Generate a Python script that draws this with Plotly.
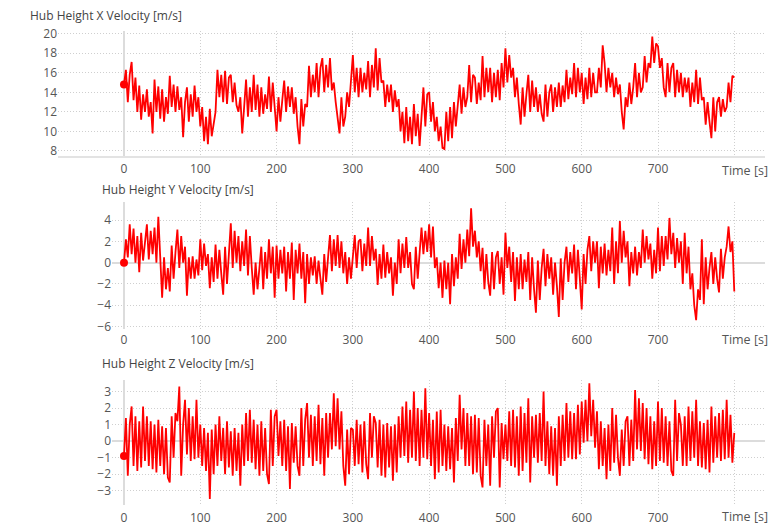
import plotly.graph_objects as go

W, H = 783, 531

# ---- data, 4 samples per 10 s window, 2.5 s apart ----
x_vel = [
    14.8, 16.3, 13.0, 15.8,  17.1, 13.2, 15.5, 12.0,  14.7, 11.2, 13.8, 12.0,  14.3, 11.5, 13.0, 9.8,
    15.3, 12.0, 14.6, 11.3,  14.3, 11.0, 13.5, 11.8,  15.7, 12.5, 14.8, 12.0,  14.6, 12.2, 13.5, 9.4,
    13.0, 14.5, 11.0, 13.8,  11.5, 14.7, 12.0, 13.5,  10.5, 12.5, 9.0, 11.5,   8.7, 12.3, 9.5, 11.0,
    12.0, 16.3, 13.5, 15.8,  13.0, 16.2, 12.8, 15.5,  15.8, 13.0, 15.0, 12.7,  12.0, 13.5, 9.8, 12.5,
    15.3, 11.5, 14.5, 12.0,  15.8, 12.2, 14.8, 11.5,  14.5, 11.8, 13.8, 12.3,  15.6, 12.0, 15.0, 12.5,
    10.0, 13.5, 11.0, 13.2,  15.2, 12.0, 14.6, 12.5,  14.5, 11.8, 13.5, 10.5,  8.7, 13.3, 10.5, 12.8,
    12.5, 16.7, 13.5, 15.8,  14.0, 17.0, 13.5, 16.5,  17.5, 14.0, 16.8, 14.5,  17.5, 14.2, 15.0, 13.0,
    11.5, 9.8, 13.5, 10.5,   11.5, 14.0, 12.5, 15.5,  17.8, 14.0, 16.5, 13.5,  16.5, 14.0, 16.0, 14.3,
    17.2, 13.5, 16.8, 14.5,  18.5, 14.2, 17.5, 15.0,  15.2, 12.5, 14.8, 13.0,  14.8, 12.0, 14.2, 12.5,
    13.3, 10.0, 12.0, 8.8,   12.5, 9.0, 11.5, 8.7,    12.8, 9.5, 11.8, 8.5,    11.0, 14.5, 10.5, 13.8,
    14.0, 11.0, 13.0, 10.0,  11.5, 9.0, 10.5, 8.3,    8.2, 12.0, 9.0, 12.5,    9.3, 13.0, 10.5, 12.5,
    14.8, 11.8, 14.5, 12.5,  13.5, 16.8, 13.0, 15.8,  15.5, 12.8, 15.0, 13.2,  17.7, 13.5, 16.5, 14.0,
    16.5, 13.0, 16.0, 13.5,  16.3, 13.2, 17.0, 14.5,  18.5, 15.0, 17.8, 15.5,  16.5, 13.5, 15.5, 12.8,
    10.7, 14.5, 11.5, 13.8,  15.8, 12.0, 15.2, 12.5,  14.5, 12.0, 13.8, 11.8,  11.0, 14.8, 11.5, 14.0,
    14.8, 12.0, 14.5, 12.5,  15.0, 12.5, 14.7, 13.0,  16.3, 13.3, 15.5, 13.8,  17.0, 13.5, 16.5, 14.0,
    16.0, 12.8, 15.5, 13.3,  16.5, 13.5, 16.0, 14.0,  14.0, 16.5, 14.5, 18.8,  17.0, 14.0, 16.5, 14.5,
    16.0, 13.5, 15.5, 13.8,  14.8, 12.0, 10.2, 13.5,  12.5, 15.0, 12.8, 14.5,  17.0, 13.5, 16.0, 14.0,
    14.5, 17.7, 15.0, 17.0,  16.5, 19.7, 17.0, 19.0,  18.7, 16.5, 17.5, 14.5,  13.5, 17.0, 14.0, 16.5,
    17.0, 13.5, 16.3, 14.0,  16.0, 13.5, 15.5, 14.0,  15.5, 12.5, 15.0, 13.0,  16.3, 12.8, 15.5, 13.2,
    13.5, 10.7, 13.0, 11.0,  9.3, 13.5, 10.0, 13.0,   13.5, 11.5, 13.3, 12.0,  12.5, 15.0, 13.0, 15.7,
    15.5,
]
y_vel = [
    0.0, 2.2, 0.5, 3.6,   0.8, 3.2, 0.0, 2.5,   -0.9, 2.8, 0.2, 2.0,  3.6, 0.3, 3.0, 0.8,
    3.3, 0.0, 4.3, 0.5,   -3.3, 0.5, -2.5, -0.5, -2.7, 1.6, -1.5, 1.0, 3.1, -0.5, 2.5, 0.0,
    1.5, -3.1, 0.5, -1.5, 0.6, -1.5, 0.3, -1.2, 2.2, -0.7, 1.8, -0.3, 0.8, -2.4, 0.5, -1.8,
    1.7, -1.5, 1.2, -1.0, -3.0, 1.5, -2.0, 0.8, 3.7, -0.5, 3.0, 0.0,  2.5, -0.8, 2.0, -0.3,
    3.1, -1.2, 2.5, -0.5, -3.0, 0.0, -2.5, -0.5, 1.5, -2.5, 1.0, -1.5, 2.2, -1.0, 1.5, -3.3,
    1.6, -1.5, 1.2, -1.0, 1.5, -2.7, 1.0, -1.5, 1.9, -3.5, 1.2, -1.0, 1.8, -1.5, 1.0, -3.8,
    0.8, -2.0, 0.5, -1.2, 0.6, -2.0, 0.2, -1.5, -3.0, 0.8, -1.8, 0.5, 2.6, -0.8, 2.2, -0.3,
    2.6, -0.5, 2.0, -1.0, 1.0, -2.0, 0.5, -1.5, 0.5, 2.6, -0.5, 2.0,  2.2, -0.8, 1.8, -0.3,
    3.3, -0.3, 2.5, 0.2,  1.3, -2.1, 0.8, -1.5, 1.7, -1.4, 1.0, -1.0, 0.5, -3.1, 0.0, -2.0,
    2.2, -1.0, 1.8, -0.5, 2.4, -0.5, 1.0, -2.0, -2.5, 1.5, -1.5, 1.2, 3.3, 0.8, 3.0, 1.0,
    3.6, 0.5, 3.4, -0.5,  0.5, -2.4, 0.0, -3.3, 0.2, -2.5, 0.0, -3.9, 0.8, -2.2, 0.5, -1.5,
    2.7, -0.6, 2.2, 0.0,  3.1, 0.6, 5.1, 1.5,   3.0, 0.5, 2.0, -0.8,  1.4, -2.5, 0.8, -1.8,
    -3.1, 1.0, -2.5, 0.5, 1.1, -2.0, 0.5, -3.0, 2.8, -0.5, 1.5, -1.8, 1.0, -3.6, 0.5, -2.5,
    0.8, -2.5, 0.3, -1.8, 1.0, -3.5, 0.5, -2.5, -4.7, 0.2, -3.5, -0.5, 1.3, -2.2, 0.8, -1.5,
    0.5, -3.0, 0.0, -2.2, -5.1, 0.4, -3.5, 0.0, 1.5, -1.8, 1.0, -1.0, 1.7, -2.5, 1.2, -1.5,
    -4.4, 0.8, -2.0, 1.2, 2.5, -0.8, 2.0, 0.0,  2.0, -2.4, 1.5, -1.0, 1.8, -1.2, 1.2, -0.8,
    3.3, -2.0, 2.0, -1.0, 3.9, 0.0, 3.0, 0.5,   2.0, -2.2, 1.0, -1.0, 1.5, -1.2, 1.0, -0.5,
    3.1, 0.0, 2.5, 0.3,   1.8, -1.5, 1.2, -1.0, 3.3, -0.8, 2.5, -0.3, 2.5, 0.3, 4.2, 0.8,
    2.8, -0.5, 2.3, 0.0,  2.0, -2.0, 2.8, -1.0, 1.5, -2.5, -1.0, -4.0, -5.4, -2.5, -3.5, 2.2,
    -3.9, 0.5, -2.5, -0.5, 1.0, -2.0, 0.5, -1.5, -2.8, 1.3, -1.5, 0.5, 1.5, 3.4, 1.0, 2.0,
    -2.7,
]
z_vel = [
    -0.9, 1.4, -2.1, 1.0, 2.1, -1.5, 1.5, -1.8, 1.2, -1.6, 2.1, -1.2, 1.5, -1.5, 1.2, -1.7,
    1.0, -1.9, 1.3, -1.5, 0.9, -2.0, 0.8, -2.2, -2.5, 1.5, -1.0, 1.7, 1.2, 3.3, -2.1, 1.0,
    2.5, -0.8, 2.0, -1.2, 1.5, -1.1, 2.5, -1.0, 1.0, -1.5, 0.8, -1.8, 0.5, -3.5, 0.7, -2.0,
    1.0, -1.5, 1.5, -1.2, 0.8, -2.0, 1.2, -1.6, 0.6, -2.1, 0.8, -1.8, 0.5, -2.7, 1.0, -1.5,
    1.7, -1.2, 1.9, -1.3, 1.3, -1.7, 1.0, -2.1, 1.2, -1.8, 0.8, -2.0, -2.6, 1.9, -1.5, 1.5,
    1.9, -0.9, 1.2, -1.5, 1.3, -1.8, 0.9, -2.9, 1.1, -1.3, 0.9, -1.5, -2.1, 2.0, -1.5, 1.3,
    2.3, -1.0, 1.6, -1.5, 1.5, -1.2, 2.2, -1.4, 1.4, -2.1, 1.7, -1.0, 1.7, -0.5, 2.9, -0.3,
    2.6, -0.5, 1.8, -1.5, -2.7, 0.7, -2.0, 0.8, 0.7, -1.5, 1.3, -1.4, 1.0, -1.9, 1.2, -1.4,
    -2.3, 1.7, -1.0, 1.5, 1.1, -1.6, 1.3, -2.1, 1.0, -2.2, 1.1, -1.6, 0.9, -2.4, 1.0, -1.9,
    1.5, -1.0, 2.1, -0.9, 2.4, -1.3, 1.9, -1.0, 3.0, -1.2, 2.0, -1.5, 1.9, -1.0, 3.2, -1.1,
    1.7, -1.5, 1.3, -2.3, 1.8, -1.9, 1.9, -1.5, 1.0, -1.8, 0.9, -1.7, 0.8, -2.5, 1.4, -1.2,
    2.8, -0.5, 2.0, -1.5, 1.7, -1.5, 1.5, -2.0, 1.6, -1.9, 1.4, -2.1, -2.8, 1.3, -1.5, 1.0,
    -2.7, 1.5, -1.0, 1.8, 2.0, -2.8, 1.1, -1.1, 1.0, -1.2, 1.8, -1.5, 1.9, -1.6, 1.5, -2.1,
    2.1, -1.8, 1.7, -1.3, 2.6, -2.5, 1.5, -1.0, 1.6, -1.3, 1.7, -1.2, 3.0, -1.5, 1.2, -2.0,
    0.9, -2.1, 0.8, -2.7, 1.5, -1.5, 1.6, -1.2, 2.3, -1.0, 1.8, -1.1, 1.7, -1.1, 2.2, -0.8,
    2.4, -0.1, 2.5, 0.0,  3.5, 0.3, 2.5, -0.4, 1.8, -1.7, 1.2, -1.5, 0.8, -2.3, 1.0, -1.8,
    2.0, -1.3, 1.6, -1.0, -2.1, 0.7, -1.5, 1.2, 1.5, -1.5, 1.3, -1.2, 3.1, -0.5, 2.6, -0.6,
    2.3, -1.1, 2.0, -1.4, 1.5, -1.7, 1.2, -1.5, 2.4, -1.2, 2.0, -1.3, 1.5, -1.5, 1.2, -1.8,
    -2.1, 2.5, -1.2, 1.7, 1.0, -1.5, 1.5, -1.5, 2.1, -1.2, 1.8, -1.0, 2.5, -1.5, 1.2, -1.6,
    1.1, -1.7, 1.3, -1.9, 2.1, -1.3, 1.5, -1.0, 1.7, -1.2, 1.9, -1.1, 2.5, -1.0, 1.6, -1.3,
    0.5,
]
time_s = [i * 2.5 for i in range(len(x_vel))]

titles = ["Hub Height X Velocity [m/s]", "Hub Height Y Velocity [m/s]", "Hub Height Z Velocity [m/s]"]
x_ticks = [0, 100, 200, 300, 400, 500, 600, 700, 800]
x_ticktext = ["0", "100", "200", "300", "400", "500", "600", "700", ""]
y_ticks = [[8, 10, 12, 14, 16, 18, 20], [-6, -4, -2, 0, 2, 4], [-3, -2, -1, 0, 1, 2, 3]]

# ---- geometry (pixels) ----
PX_PER_S = 534 / 700.0
T0_PX = 124
RIGHT_PX = 765
panels = [
    dict(left=58, top=26, bottom=153, v_top=20.0, v_top_px=28.3, ppu=10.0, standoff=1),
    dict(left=112, top=201, bottom=330, v_top=4.0, v_top_px=219.0, ppu=10.9, standoff=2),
    dict(left=112, top=383, bottom=511, v_top=3.0, v_top_px=394.5, ppu=16.9, standoff=4),
]
series = [x_vel, y_vel, z_vel]

FONT = "Open Sans"
GRID = "#cfcfcf"
AXIS = "#dcdcdc"
TXT = "#555555"

fig = go.Figure()
layout = dict(width=W, height=H, margin=dict(l=0, r=0, t=0, b=0),
              paper_bgcolor="white", plot_bgcolor="white", showlegend=False,
              font=dict(family=FONT, size=12, color=TXT))
annotations = []
for i, (p, ys) in enumerate(zip(panels, series)):
    n = "" if i == 0 else str(i + 1)
    xa, ya = "x" + n, "y" + n
    fig.add_trace(go.Scatter(x=time_s, y=ys, mode="lines", line=dict(color="#ff0000", width=1.8),
                             xaxis=xa, yaxis=ya, hoverinfo="skip"))
    fig.add_trace(go.Scatter(x=[time_s[0]], y=[ys[0]], mode="markers",
                             marker=dict(color="#ff0000", size=8), xaxis=xa, yaxis=ya))
    t_left = (p["left"] - T0_PX) / PX_PER_S
    t_right = (RIGHT_PX - T0_PX) / PX_PER_S
    v_hi = p["v_top"] + (p["v_top_px"] - p["top"]) / p["ppu"]
    v_lo = p["v_top"] - (p["bottom"] - p["v_top_px"]) / p["ppu"]
    layout["xaxis" + n] = dict(
        domain=[p["left"] / W, RIGHT_PX / W], range=[t_left, t_right], anchor=ya,
        tickvals=x_ticks, ticktext=x_ticktext, ticks="", showgrid=True, gridcolor=GRID,
        griddash="1px,2px", gridwidth=1, zeroline=True, zerolinecolor=AXIS, zerolinewidth=2,
        showline=(i == 0), linecolor="#e3e3e3", linewidth=2, ticklabelstandoff=p["standoff"],
        tickfont=dict(size=12, color=TXT), fixedrange=True)
    layout["yaxis" + n] = dict(
        domain=[1 - p["bottom"] / H, 1 - p["top"] / H], range=[v_lo, v_hi], anchor=xa,
        tickvals=y_ticks[i], ticks="", showgrid=True, gridcolor=GRID, griddash="1px,2px",
        gridwidth=1, zeroline=(i > 0), zerolinecolor=AXIS, zerolinewidth=2,
        showline=False, tickfont=dict(size=12, color=TXT), fixedrange=True)
    title_x = 28 if i == 0 else 100
    title_y = [10, 188, 366][i]
    annotations.append(dict(text=titles[i], xref="paper", yref="paper", x=title_x / W,
                            y=1 - title_y / H, xanchor="left", yanchor="middle",
                            showarrow=False, font=dict(size=12, color="#444444")))
    annotations.append(dict(text="Time [s]", xref="paper", yref="paper", x=770 / W,
                            y=1 - [168, 341, 522][i] / H, xanchor="right", yanchor="middle",
                            showarrow=False, font=dict(size=12.5, color=TXT)))

layout["annotations"] = annotations
fig.update_layout(**layout)
fig.write_html("out.html")
